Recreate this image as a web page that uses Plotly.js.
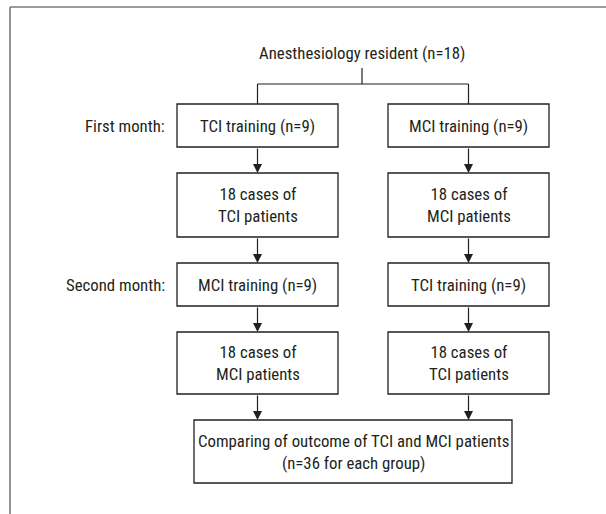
<!DOCTYPE html>
<html>
<head>
<meta charset="utf-8">
<script src="https://cdn.plot.ly/plotly-3.0.1.min.js"></script>
<style>html,body{margin:0;padding:0;background:#fff;}#chart{width:606px;height:514px;}</style>
</head>
<body>
<div id="chart"></div>
<script>
// ---- content ----
const topLabel = "Anesthesiology resident (n=18)";
const stageLabels = ["First month:", "Second month:"];
const leftBoxes = ["TCI training (n=9)", "18 cases of<br>TCI patients", "MCI training (n=9)", "18 cases of<br>MCI patients"];
const rightBoxes = ["MCI training (n=9)", "18 cases of<br>MCI patients", "TCI training (n=9)", "18 cases of<br>TCI patients"];
const bottomLabel = "Comparing of outcome of TCI and MCI patients<br>(n=36 for each group)";

// ---- layout geometry (pixels) ----
const W = 606, H = 514;
const rowsY = [[104,147],[173,237],[263,306],[332,394]];
const colsX = [[177,338],[388,549]];
const bottomBox = {x0:194, x1:512, y0:420, y1:483};
const titlePos = {x:362, y:53};
const forkY = 84, stemTop = 68;
const stageRows = [0, 2];
const stageRight = 167;

const ink = "#231f20";
const font = {family: "Roboto Condensed, Liberation Sans Narrow, sans-serif", size: 16.8, color: ink};

const shapes = [];
const annotations = [];

// outer frame (top and left)
shapes.push({type:"line", x0:10, x1:W, y0:7, y1:7, line:{color:"#7a7a7a", width:1.6}});
shapes.push({type:"line", x0:10, x1:10, y0:7, y1:H, line:{color:"#7a7a7a", width:1.6}});

function box(x0,x1,y0,y1){
  shapes.push({type:"rect", x0, x1, y0, y1, line:{color:ink, width:1.3}, fillcolor:"rgba(0,0,0,0)"});
}
function seg(x0,y0,x1,y1){
  shapes.push({type:"line", x0, y0, x1, y1, line:{color:ink, width:1.2}});
}
function arrow(x,y0,y1){
  annotations.push({x:x, y:y1, ax:x, ay:y0, xref:"x", yref:"y", axref:"x", ayref:"y",
    showarrow:true, arrowhead:2, arrowsize:1.5, arrowwidth:1.2, arrowcolor:ink, text:"", standoff:0});
}
function label(text,x,y,anchor){
  annotations.push({x, y, xref:"x", yref:"y", text, showarrow:false, font, xanchor:anchor||"center", yanchor:"middle", align:"center"});
}

// title & fork
label(topLabel, titlePos.x, titlePos.y);
const cx = colsX.map(c => (c[0]+c[1])/2);
seg(titlePos.x, stemTop, titlePos.x, forkY);
seg(cx[0], forkY, cx[1], forkY);
seg(cx[0], forkY, cx[0], rowsY[0][0]);
seg(cx[1], forkY, cx[1], rowsY[0][0]);

// columns
[leftBoxes, rightBoxes].forEach((texts, ci) => {
  texts.forEach((t, ri) => {
    const [y0,y1] = rowsY[ri];
    box(colsX[ci][0], colsX[ci][1], y0, y1);
    label(t, cx[ci], (y0+y1)/2);
    const nextTop = ri < texts.length-1 ? rowsY[ri+1][0] : bottomBox.y0;
    arrow(cx[ci], y1, nextTop);
  });
});

// stage labels
stageLabels.forEach((t, i) => {
  const [y0,y1] = rowsY[stageRows[i]];
  label(t, stageRight, (y0+y1)/2, "right");
});

// bottom box
box(bottomBox.x0, bottomBox.x1, bottomBox.y0, bottomBox.y1);
label(bottomLabel, (bottomBox.x0+bottomBox.x1)/2, (bottomBox.y0+bottomBox.y1)/2);

Plotly.newPlot("chart", [], {
  width: W, height: H,
  margin: {l:0, r:0, t:0, b:0},
  paper_bgcolor: "#ffffff", plot_bgcolor: "#ffffff",
  xaxis: {range:[0,W], visible:false, fixedrange:true},
  yaxis: {range:[H,0], visible:false, fixedrange:true},
  shapes, annotations, showlegend:false
}, {staticPlot:true, displayModeBar:false});
</script>
</body>
</html>
